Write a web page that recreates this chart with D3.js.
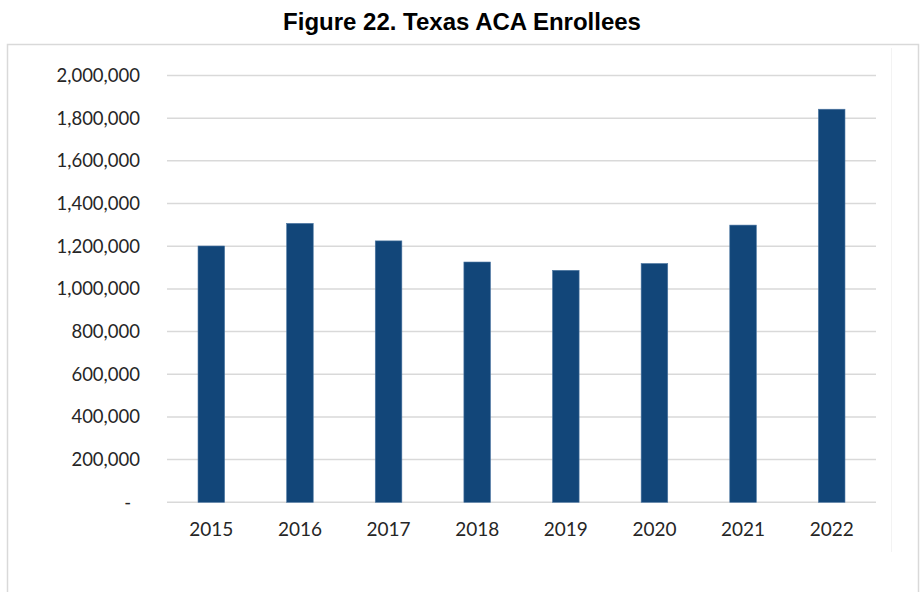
<!DOCTYPE html>
<html>
<head>
<meta charset="utf-8">
<script src="https://cdn.jsdelivr.net/npm/d3@7"></script>
<style>
  html, body { margin: 0; padding: 0; background: #fff; }
  svg { display: block; }
</style>
</head>
<body>
<svg id="chart" width="922" height="592"></svg>
<script>
// Texas ACA marketplace enrollment by plan year
const years = ["2015", "2016", "2017", "2018", "2019", "2020", "2021", "2022"];
const enrollees = [1201000, 1307000, 1225000, 1126000, 1087000, 1119000, 1299000, 1842000];
const yTicks = [0, 200000, 400000, 600000, 800000, 1000000, 1200000, 1400000, 1600000, 1800000, 2000000];

const svg = d3.select("#chart");

// title
svg.append("text")
  .attr("x", 462).attr("y", 29.5)
  .attr("text-anchor", "middle")
  .style("font-family", "'Liberation Sans', Arial, sans-serif")
  .style("font-weight", "bold")
  .style("font-size", "24px")
  .style("fill", "#000")
  .text("Figure 22. Texas ACA Enrollees");

// chart frame
svg.append("rect")
  .attr("x", 7.5).attr("y", 44.5)
  .attr("width", 911).attr("height", 560)
  .attr("fill", "#fff")
  .attr("stroke", "#d9d9d9").attr("stroke-width", 1.5);

svg.append("line")
  .attr("x1", 891.5).attr("x2", 891.5)
  .attr("y1", 48).attr("y2", 552)
  .attr("stroke", "#f3f3f3").attr("stroke-width", 1);

const plot = { left: 167, right: 876, top: 75.5, bottom: 502.3 };

const x = d3.scaleBand()
  .domain(years)
  .range([plot.left, plot.right])
  .paddingInner(0.7)
  .paddingOuter(0.35);

const y = d3.scaleLinear()
  .domain([0, 2000000])
  .range([plot.bottom, plot.top]);

const labelFont = "Lato, 'Open Sans', sans-serif";

// horizontal gridlines
svg.append("g")
  .selectAll("line")
  .data(yTicks)
  .join("line")
  .attr("x1", plot.left).attr("x2", plot.right)
  .attr("y1", d => y(d)).attr("y2", d => y(d))
  .attr("stroke", "#d9d9d9").attr("stroke-width", 1.5);

// y axis labels
const yAxis = d3.axisLeft(y)
  .tickValues(yTicks)
  .tickSize(0)
  .tickPadding(27)
  .tickFormat(d => d === 0 ? "-" : d3.format(",")(d));

const gy = svg.append("g")
  .attr("transform", `translate(${plot.left},0)`)
  .call(yAxis);
gy.select(".domain").remove();
gy.selectAll("text")
  .style("font-family", labelFont)
  .style("font-size", "18.5px")
  .style("fill", "#262626")
  .attr("dx", d => d === 0 ? -9 : 0);

// bars
svg.append("g")
  .selectAll("rect")
  .data(years.map((yr, i) => ({ yr, v: enrollees[i] })))
  .join("rect")
  .attr("x", d => x(d.yr))
  .attr("width", x.bandwidth())
  .attr("y", d => y(d.v))
  .attr("height", d => y(0) - y(d.v))
  .attr("fill", "#124679")
  .attr("stroke", "#4d77a3").attr("stroke-width", 0.6);

// x axis labels
const xAxis = d3.axisBottom(x).tickSize(0).tickPadding(20);
const gx = svg.append("g")
  .attr("transform", `translate(0,${plot.bottom})`)
  .call(xAxis);
gx.select(".domain").remove();
gx.selectAll("text")
  .style("font-family", labelFont)
  .style("font-size", "19px")
  .style("fill", "#262626");
</script>
</body>
</html>
